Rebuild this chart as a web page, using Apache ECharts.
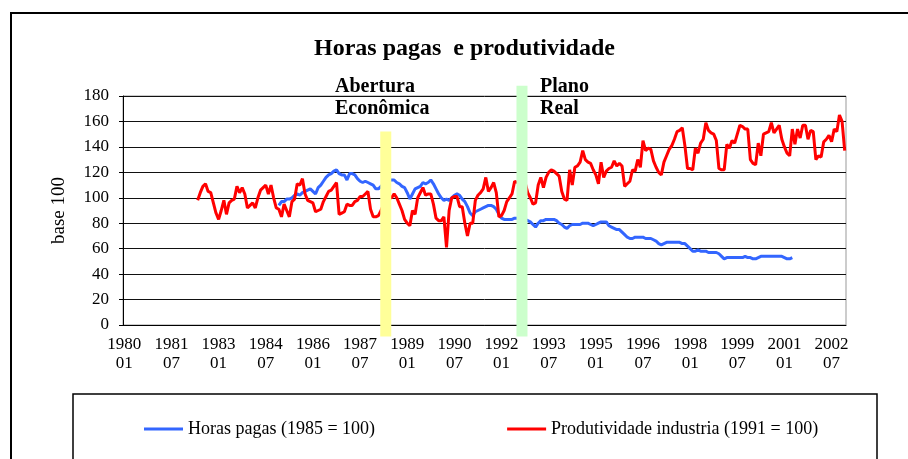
<!DOCTYPE html>
<html>
<head>
<meta charset="utf-8">
<script src="https://cdn.jsdelivr.net/npm/echarts@6/dist/echarts.min.js"></script>
<style>
    html, body { margin: 0; padding: 0; background: #fff; }
    #chart { width: 908px; height: 459px; }
</style>
</head>
<body>
<div id="chart"></div>
<script>
// eixo mensal: 1980-01 .. 2002-12
const anoInicial = 1980;
const anoFinal = 2002;

// Horas pagas (1985 = 100), a partir de 1984-12
const horasInicio = '1984-12';
const horasPagas = [
    94, 97, 97, 99, 99, 100, 102, 103, 102, 104,
    105, 106, 107, 105, 103, 108, 110, 113, 116, 118,
    119, 121, 122, 119, 118, 118, 114, 119, 119, 118,
    115, 113, 112, 113, 112, 111, 110, 107, 107, 109,
    111, 113, 114, 114, 114, 112, 111, 109, 108, 104,
    99, 103, 107, 108, 109, 112, 111, 112, 114, 111,
    107, 103, 100, 98, 99, 98, 100, 102, 103, 102,
    99, 97, 93, 88, 86, 89, 90, 91, 92, 93,
    94, 94, 93, 91, 87, 84, 83, 83, 83, 83,
    84, 84, 83, 83, 83, 82, 81, 79, 77, 80,
    82, 82, 83, 83, 83, 83, 82, 80, 79, 77,
    76, 78, 79, 79, 79, 79, 80, 80, 80, 79,
    78, 79, 80, 81, 81, 81, 78, 77, 76, 75,
    75, 73, 71, 69, 68, 68, 69, 69, 69, 69,
    68, 68, 68, 67, 66, 64, 63, 64, 65, 65,
    65, 65, 65, 65, 64, 64, 62, 60, 58, 58,
    59, 58, 58, 58, 57, 57, 57, 57, 56, 54,
    52, 53, 53, 53, 53, 53, 53, 53, 54, 53,
    53, 52, 52, 53, 54, 54, 54, 54, 54, 54,
    54, 54, 54, 53, 52, 52, 53
];

// Produtividade industria (1991 = 100), a partir de 1982-05
const prodInicio = '1982-05';
const produtividade = [
    98, 104, 109, 111, 105, 104, 96, 88, 83, 90,
    98, 87, 96, 98, 99, 109, 104, 108, 103, 92,
    94, 96, 92, 100, 106, 108, 110, 103, 110, 100,
    92, 91, 85, 95, 90, 85, 97, 99, 111, 110,
    115, 103, 98, 97, 96, 89, 90, 91, 97, 101,
    105, 106, 109, 112, 87, 88, 89, 95, 94, 94,
    97, 98, 101, 101, 103, 105, 91, 85, 85, 86,
    90, 95, 98, 100, 100, 103, 100, 95, 90, 83,
    80, 78, 90, 87, 100, 104, 108, 102, 103, 103,
    95, 84, 82, 82, 85, 61, 90, 100, 101, 101,
    93, 93, 80, 70, 80, 80, 98, 102, 104, 107,
    116, 105, 108, 112, 104, 85, 86, 90, 97, 100,
    103, 113, 112, 114, 113, 112, 104, 100, 95, 96,
    110, 116, 108, 116, 120, 122, 121, 119, 117, 105,
    99, 98, 122, 110, 124, 125, 128, 137, 130, 128,
    127, 122, 118, 111, 128, 116, 121, 123, 124, 129,
    125, 127, 125, 109, 111, 113, 122, 121, 130, 124,
    145, 137, 139, 138, 129, 124, 120, 118, 128, 133,
    138, 141, 146, 152, 153, 155, 141, 123, 123, 122,
    139, 135, 143, 146, 159, 153, 151, 150, 145, 123,
    122, 122, 142, 139, 145, 143, 150, 157, 156, 154,
    154, 130, 127, 126, 143, 133, 150, 151, 152, 159,
    151, 154, 157, 146, 140, 135, 133, 154, 142, 154,
    147, 157, 157, 146, 153, 152, 130, 133, 132, 144,
    146, 149, 144, 154, 152, 165, 160, 137
];

// eventos marcados com faixas verticais
const eventoNomes = ['Abertura\nEconômica', 'Plano\nReal'];
const eventoMes = ['1988-05', '1992-09'];
const eventoTopo = [152, 188];
const eventoBase = -9;

const yTicks = [0, 180, 20]; // min, max, intervalo

// monta categorias mensais
const meses = [];
for (let a = anoInicial; a <= anoFinal; a++) {
    for (let m = 1; m <= 12; m++) {
        meses.push(a + '-' + String(m).padStart(2, '0'));
    }
}
const rotulos = meses.map(k => k.replace('-', '\n'));

function serieCompleta(inicio, valores) {
    const idx = meses.indexOf(inicio);
    return meses.map((_, i) => (i >= idx && i - idx < valores.length) ? valores[i - idx] : null);
}

const serif = '"Liberation Serif", "Times New Roman", serif';
const chart = echarts.init(document.getElementById('chart'));

chart.setOption({
    animation: false,
    backgroundColor: '#fff',
    title: {
        text: 'Horas pagas  e produtividade',
        left: 309,
        top: 32,
        textStyle: { fontFamily: serif, fontWeight: 'bold', fontSize: 24, color: '#000' }
    },
    legend: {
        left: 139,
        top: 415,
        icon: 'rect',
        itemWidth: 39,
        itemHeight: 3,
        itemGap: 132,
        textStyle: { fontFamily: serif, fontSize: 18, color: '#000' },
        data: ['Horas pagas (1985 = 100)', 'Produtividade industria (1991 = 100)']
    },
    grid: {
        left: 123, right: 62, top: 96, bottom: 134,
        show: true, borderColor: '#999', borderWidth: 1
    },
    xAxis: {
        type: 'category',
        data: rotulos,
        boundaryGap: true,
        axisLine: { lineStyle: { color: '#000', width: 1 } },
        axisTick: { interval: 0, length: 4, lineStyle: { color: '#000' } },
        axisLabel: {
            interval: 17, margin: 10, color: '#000',
            fontFamily: serif, fontSize: 17, lineHeight: 19
        }
    },
    yAxis: {
        type: 'value',
        min: yTicks[0], max: yTicks[1], interval: yTicks[2],
        name: 'base 100',
        nameLocation: 'middle',
        nameRotate: 90,
        nameGap: 54,
        nameTextStyle: { fontFamily: serif, fontSize: 19, color: '#000' },
        axisLine: { show: true, lineStyle: { color: '#000', width: 1 } },
        axisTick: { show: true, length: 4, lineStyle: { color: '#000' } },
        axisLabel: { margin: 14, color: '#000', fontFamily: serif, fontSize: 17 },
        splitLine: { lineStyle: { color: '#111', width: 1 } }
    },
    series: [
        {
            name: 'Horas pagas (1985 = 100)',
            type: 'line',
            data: serieCompleta(horasInicio, horasPagas),
            symbol: 'none',
            itemStyle: { color: '#3366ff' },
            lineStyle: { color: '#3366ff', width: 3 }
        },
        {
            name: 'Produtividade industria (1991 = 100)',
            type: 'line',
            data: serieCompleta(prodInicio, produtividade),
            symbol: 'none',
            itemStyle: { color: '#ff0000' },
            lineStyle: { color: '#ff0000', width: 3 }
        },
        {
            // faixas verticais dos eventos
            type: 'custom',
            clip: false,
            z: 5,
            data: eventoMes.map((m, i) => [meses.indexOf(m), eventoBase, eventoTopo[i], i]),
            renderItem(params, api) {
                const top = api.coord([api.value(0), api.value(2)]);
                const bot = api.coord([api.value(0), api.value(1)]);
                const w = api.size([1, 0])[0] * 4.2;
                const cores = ['#ffff99', '#ccffcc'];
                return {
                    type: 'rect',
                    shape: { x: top[0] - w / 2 - 0.5, y: top[1], width: w, height: bot[1] - top[1] },
                    style: { fill: cores[api.value(3)] }
                };
            }
        }
    ],
    graphic: [
        {
            type: 'rect', silent: true,
            shape: { x: 11, y: 13, width: 960, height: 500 },
            style: { fill: null, stroke: '#000', lineWidth: 2 }
        },
        {
            type: 'rect', silent: true,
            shape: { x: 73, y: 394, width: 804, height: 100 },
            style: { fill: null, stroke: '#000', lineWidth: 1.5 }
        },
        {
            type: 'text', x: 335, y: 76,
            style: {
                text: eventoNomes[0], textAlign: 'left',
                font: 'bold 20px ' + serif, lineHeight: 22, fill: '#000'
            }
        },
        {
            type: 'text', x: 540, y: 76,
            style: {
                text: eventoNomes[1], textAlign: 'left',
                font: 'bold 20px ' + serif, lineHeight: 22, fill: '#000'
            }
        }
    ]
});

window.addEventListener('resize', () => chart.resize());
</script>
</body>
</html>
